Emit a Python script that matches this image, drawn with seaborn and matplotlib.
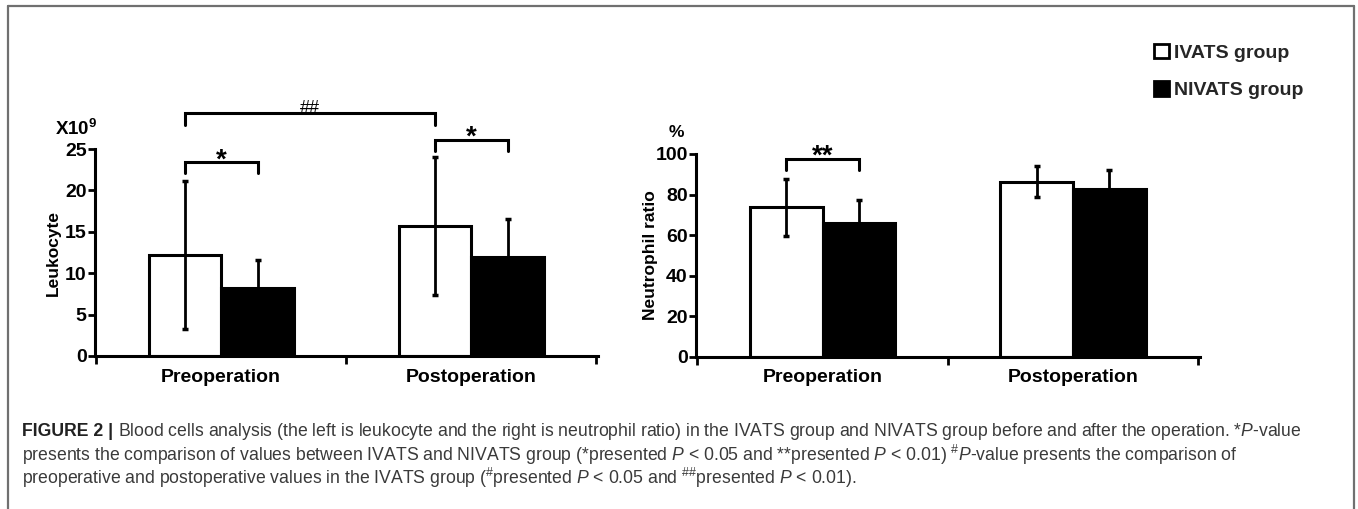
import matplotlib
matplotlib.use("Agg")
import matplotlib.pyplot as plt
import seaborn as sns
import pandas as pd
from matplotlib.patches import Patch
from matplotlib.lines import Line2D

# ---------------- data ----------------
categories = ["Preoperation", "Postoperation"]
groups = ["IVATS group", "NIVATS group"]

leuko_ivats = [12.2, 15.7]
leuko_ivats_sd = [8.9, 8.3]
leuko_nivats = [8.2, 12.0]
leuko_nivats_sd = [3.4, 4.6]

neut_ivats = [73.7, 86.3]
neut_ivats_sd = [14.0, 7.6]
neut_nivats = [66.0, 82.7]
neut_nivats_sd = [11.2, 9.3]

leuko_ticks = [0, 5, 10, 15, 20, 25]
neut_ticks = [0, 20, 40, 60, 80, 100]

caption_head = "FIGURE 2 |"
caption_lines = [
    "Blood cells analysis (the left is leukocyte and the right is neutrophil ratio) in the IVATS group and NIVATS group before and after the operation. *$P$-value",
    "presents the comparison of values between IVATS and NIVATS group (*presented $P$ < 0.05 and **presented $P$ < 0.01) $^{\\#}P$-value presents the comparison of",
    "preoperative and postoperative values in the IVATS group ($^{\\#}$presented $P$ < 0.05 and $^{\\#\\#}$presented $P$ < 0.01).",
]

# ---------------- style ----------------
sns.set_theme(style="ticks")
plt.rcParams["font.family"] = ["Liberation Sans", "DejaVu Sans"]
plt.rcParams["mathtext.fontset"] = "custom"
plt.rcParams["mathtext.rm"] = "Liberation Sans"
plt.rcParams["mathtext.it"] = "Liberation Sans:italic"
plt.rcParams["mathtext.bf"] = "Liberation Sans:bold"

W, H = 1358, 509
fig = plt.figure(figsize=(W / 100, H / 100), dpi=100)
fig.patch.set_facecolor("white")


def px_axes(x0, y0, x1, y1):
    return fig.add_axes([x0 / W, 1 - y1 / H, (x1 - x0) / W, (y1 - y0) / H])


ax1 = px_axes(95, 149, 598, 356)
ax2 = px_axes(696, 154, 1200, 356.7)

LW = 2.2


def panel(ax, ivats, ivats_sd, nivats, nivats_sd, ticks, ylabel):
    df = pd.DataFrame({
        "Period": categories * 2,
        "Group": [groups[0]] * len(categories) + [groups[1]] * len(categories),
        "Value": list(ivats) + list(nivats),
    })
    sns.barplot(data=df, x="Period", y="Value", hue="Group", order=categories,
                hue_order=groups, palette={groups[0]: "white", groups[1]: "black"},
                saturation=1, edgecolor="black", linewidth=LW, width=0.58, gap=0,
                errorbar=None, legend=False, ax=ax, zorder=2)
    centers = []
    for cont, sds in zip(ax.containers, [ivats_sd, nivats_sd]):
        row = []
        for bar, sd in zip(cont, sds):
            cx = bar.get_x() + bar.get_width() / 2
            ax.errorbar(cx, bar.get_height(), yerr=sd, fmt="none", ecolor="black",
                        elinewidth=2.0, capsize=2.5, capthick=2.5, zorder=5, clip_on=False)
            row.append((cx, bar.get_height()))
        centers.append(row)
    ax.set_xlim(-0.505, 1.507)
    ax.set_ylim(0, ticks[-1])
    ax.set_yticks(ticks)
    ax.set_xticks(range(len(categories)))
    ax.set_xticklabels(categories)
    ax.set_xticks([-0.5, 0.5, 1.5], minor=True)
    sns.despine(ax=ax)
    for s in ("left", "bottom"):
        ax.spines[s].set_linewidth(LW)
        ax.spines[s].set_color("black")
    ax.tick_params(axis="y", which="major", length=5, width=2, labelsize=14, pad=1, colors="black")
    ax.tick_params(axis="x", which="major", length=0, labelsize=14, pad=9, colors="black")
    ax.tick_params(axis="x", which="minor", length=6, width=2, color="black")
    for lab in ax.get_yticklabels() + ax.get_xticklabels():
        lab.set_fontweight("bold")
    ax.set_xlabel("")
    ax.set_ylabel(ylabel, fontsize=12.5, fontweight="bold", color="black")
    ax.set_facecolor("white")
    return centers


def bracket(ax, x0, x1, ytop, yleg, text, fs, weight="bold", dy=0.0):
    ax.plot([x0, x0, x1, x1], [yleg, ytop, ytop, yleg], color="black", lw=LW,
            clip_on=False, solid_joinstyle="miter", zorder=6)
    ax.text((x0 + x1) / 2, ytop + dy, text, ha="center", va="baseline", fontsize=fs,
            fontweight=weight, color="black", clip_on=False)


c1 = panel(ax1, leuko_ivats, leuko_ivats_sd, leuko_nivats, leuko_nivats_sd, leuko_ticks, "Leukocyte")
c2 = panel(ax2, neut_ivats, neut_ivats_sd, neut_nivats, neut_nivats_sd, neut_ticks, "Neutrophil ratio")

ax1.yaxis.set_label_coords(-0.068, 0.5)
ax2.yaxis.set_label_coords(-0.075, 0.5)

# significance brackets
bracket(ax1, c1[0][0][0], c1[1][0][0], 23.4, 22.1, "*", 20, dy=-0.6)
bracket(ax1, c1[0][1][0], c1[1][1][0], 26.1, 24.7, "*", 20, dy=-0.6)
bracket(ax1, c1[0][0][0], c1[0][1][0], 29.3, 27.9, "##", 13, weight="normal", dy=0.05)
bracket(ax2, c2[0][0][0], c2[1][0][0], 97.4, 92.1, "**", 20, dy=-2.0)

# unit labels
ax1.text(-0.08, 1.095, r"X10$^{\mathbf{9}}$", transform=ax1.transAxes, ha="left", va="center",
         fontsize=13.5, fontweight="bold", color="black")
ax2.text(-0.038, 1.108, "%", transform=ax2.transAxes, ha="center", va="center",
         fontsize=12.5, fontweight="bold", color="black")

# legend
handles = [Patch(facecolor="white", edgecolor="black", linewidth=2, label=groups[0]),
           Patch(facecolor="black", edgecolor="black", linewidth=2, label=groups[1])]
fig.legend(handles=handles, loc="upper left", bbox_to_anchor=(1154 / W, 1 - 44 / H),
           frameon=False, prop={"weight": "bold", "size": 14}, handlelength=0.75,
           handleheight=0.75, handletextpad=0.3, labelspacing=1.0, borderaxespad=0,
           borderpad=0)

# frame
frame_c = "#707070"
fig.add_artist(Line2D([8 / W, 8 / W], [0, 1 - 6 / H], transform=fig.transFigure, color=frame_c, lw=1.6))
fig.add_artist(Line2D([8 / W, 1354 / W], [1 - 6 / H, 1 - 6 / H], transform=fig.transFigure, color=frame_c, lw=1.6))
fig.add_artist(Line2D([1354 / W, 1354 / W], [0, 1 - 6 / H], transform=fig.transFigure, color=frame_c, lw=1.6))

# caption
cap_fs = 12.7
cap_c = "#3a3a3a"
head = fig.text(22 / W, 1 - 432 / H, caption_head, fontsize=cap_fs, fontweight="bold",
                color="#222222", va="center", ha="left")
fig.canvas.draw()
bb = head.get_window_extent()
fig.text((bb.x1 + 5) / W, 1 - 432 / H, caption_lines[0], fontsize=cap_fs, color=cap_c,
         va="center", ha="left")
fig.text(22 / W, 1 - 455 / H, caption_lines[1], fontsize=cap_fs, color=cap_c, va="center", ha="left")
fig.text(22 / W, 1 - 478 / H, caption_lines[2], fontsize=cap_fs, color=cap_c, va="center", ha="left")

fig.savefig("out.png", dpi=100, facecolor="white")
